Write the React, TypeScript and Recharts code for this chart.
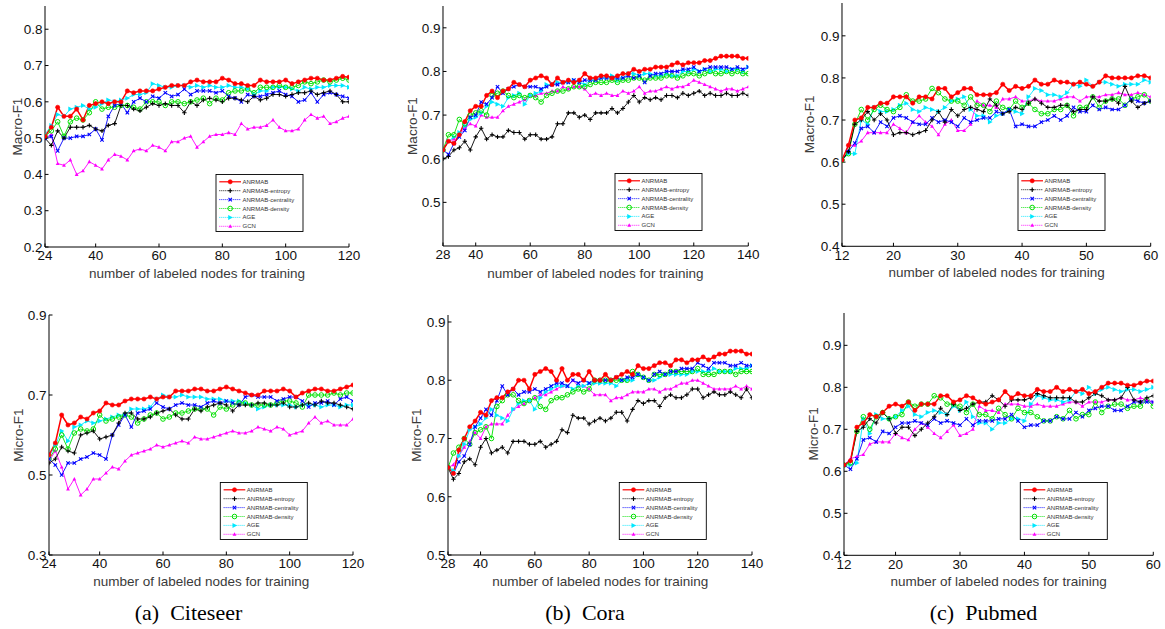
import React from "react";
import { LineChart, Line, XAxis, YAxis } from "recharts";

// x positions (labeled nodes)
const CITE_X = [24, 26, 28, 30, 32, 34, 36, 38, 40, 42, 44, 46, 48, 50, 52, 54, 56, 58, 60, 62, 64, 66, 68, 70, 72, 74, 76, 78, 80, 82, 84, 86, 88, 90, 92, 94, 96, 98, 100, 102, 104, 106, 108, 110, 112, 114, 116, 118, 120];
const CORA_X = [28, 30, 32, 34, 36, 38, 40, 42, 44, 46, 48, 50, 52, 54, 56, 58, 60, 62, 64, 66, 68, 70, 72, 74, 76, 78, 80, 82, 84, 86, 88, 90, 92, 94, 96, 98, 100, 102, 104, 106, 108, 110, 112, 114, 116, 118, 120, 122, 124, 126, 128, 130, 132, 134, 136, 138, 140];
const PUB_X = [12, 13, 14, 15, 16, 17, 18, 19, 20, 21, 22, 23, 24, 25, 26, 27, 28, 29, 30, 31, 32, 33, 34, 35, 36, 37, 38, 39, 40, 41, 42, 43, 44, 45, 46, 47, 48, 49, 50, 51, 52, 53, 54, 55, 56, 57, 58, 59, 60];

const CITE_TICKS = [24, 40, 60, 80, 100, 120];
const CORA_TICKS = [28, 40, 60, 80, 100, 120, 140];
const PUB_TICKS = [12, 20, 30, 40, 50, 60];

// Citeseer Macro-F1
const CITE_MACRO_ANRMAB = [
  0.505, 0.53, 0.585, 0.56, 0.56, 0.58, 0.55, 0.59, 0.595, 0.6,
  0.595, 0.6, 0.6, 0.63, 0.625, 0.63, 0.63, 0.63, 0.635, 0.64,
  0.645, 0.645, 0.645, 0.655, 0.66, 0.655, 0.655, 0.655, 0.665, 0.66,
  0.65, 0.65, 0.645, 0.645, 0.66, 0.655, 0.655, 0.655, 0.66, 0.65,
  0.655, 0.66, 0.665, 0.665, 0.66, 0.66, 0.665, 0.67, 0.668,
];
const CITE_MACRO_ENTROPY = [
  0.5, 0.48, 0.52, 0.5, 0.53, 0.53, 0.53, 0.535, 0.525, 0.52,
  0.535, 0.54, 0.59, 0.59, 0.58, 0.575, 0.585, 0.595, 0.59, 0.595,
  0.59, 0.59, 0.57, 0.6, 0.59, 0.605, 0.61, 0.605, 0.6, 0.61,
  0.61, 0.605, 0.6, 0.615, 0.605, 0.61, 0.62, 0.62, 0.615, 0.62,
  0.625, 0.625, 0.63, 0.62, 0.625, 0.63, 0.62, 0.6, 0.6,
];
const CITE_MACRO_CENTRALITY = [
  0.5, 0.505, 0.465, 0.5, 0.5, 0.505, 0.505, 0.51, 0.525, 0.495,
  0.56, 0.59, 0.595, 0.57, 0.6, 0.61, 0.6, 0.615, 0.61, 0.625,
  0.615, 0.62, 0.635, 0.62, 0.63, 0.63, 0.63, 0.625, 0.63, 0.615,
  0.61, 0.6, 0.62, 0.615, 0.615, 0.62, 0.625, 0.63, 0.62, 0.615,
  0.6, 0.605, 0.625, 0.6, 0.62, 0.625, 0.62, 0.615, 0.61,
];
const CITE_MACRO_DENSITY = [
  0.505, 0.52, 0.545, 0.505, 0.545, 0.555, 0.55, 0.57, 0.6, 0.58,
  0.585, 0.585, 0.59, 0.59, 0.585, 0.58, 0.6, 0.6, 0.6, 0.59,
  0.6, 0.6, 0.595, 0.6, 0.605, 0.61, 0.595, 0.61, 0.605, 0.625,
  0.63, 0.63, 0.635, 0.625, 0.64, 0.64, 0.64, 0.645, 0.64, 0.64,
  0.645, 0.655, 0.65, 0.655, 0.66, 0.655, 0.66, 0.665, 0.66,
];
const CITE_MACRO_AGE = [
  0.51, 0.535, 0.565, 0.56, 0.58, 0.585, 0.59, 0.58, 0.585, 0.595,
  0.605, 0.6, 0.605, 0.61, 0.62, 0.62, 0.625, 0.65, 0.645, 0.64,
  0.64, 0.645, 0.645, 0.64, 0.645, 0.64, 0.645, 0.64, 0.64, 0.645,
  0.64, 0.64, 0.635, 0.62, 0.63, 0.63, 0.64, 0.64, 0.64, 0.635,
  0.63, 0.64, 0.635, 0.64, 0.64, 0.645, 0.645, 0.645, 0.64,
];
const CITE_MACRO_GCN = [
  0.5, 0.51, 0.43, 0.425, 0.44, 0.4, 0.41, 0.435, 0.425, 0.415,
  0.44, 0.455, 0.45, 0.44, 0.465, 0.47, 0.465, 0.48, 0.475, 0.465,
  0.49, 0.49, 0.5, 0.505, 0.475, 0.49, 0.505, 0.51, 0.51, 0.515,
  0.51, 0.54, 0.525, 0.53, 0.53, 0.535, 0.55, 0.53, 0.52, 0.52,
  0.525, 0.55, 0.565, 0.555, 0.56, 0.54, 0.545, 0.555, 0.56,
];

// Cora Macro-F1
const CORA_MACRO_ANRMAB = [
  0.62, 0.64, 0.635, 0.655, 0.685, 0.71, 0.72, 0.72, 0.745, 0.755,
  0.74, 0.755, 0.76, 0.775, 0.77, 0.765, 0.78, 0.785, 0.79, 0.785,
  0.77, 0.785, 0.775, 0.78, 0.775, 0.78, 0.795, 0.785, 0.785, 0.79,
  0.79, 0.785, 0.79, 0.795, 0.795, 0.805, 0.8, 0.805, 0.805, 0.81,
  0.81, 0.81, 0.815, 0.82, 0.815, 0.82, 0.82, 0.82, 0.825, 0.825,
  0.83, 0.835, 0.835, 0.835, 0.835, 0.83, 0.83,
];
const CORA_MACRO_ENTROPY = [
  0.6, 0.605, 0.62, 0.625, 0.64, 0.62, 0.65, 0.67, 0.645, 0.655,
  0.65, 0.65, 0.665, 0.66, 0.66, 0.645, 0.655, 0.655, 0.645, 0.645,
  0.65, 0.68, 0.68, 0.705, 0.705, 0.695, 0.7, 0.69, 0.705, 0.705,
  0.705, 0.715, 0.705, 0.715, 0.73, 0.745, 0.73, 0.74, 0.735, 0.74,
  0.735, 0.745, 0.745, 0.74, 0.75, 0.745, 0.75, 0.755, 0.745, 0.75,
  0.745, 0.745, 0.75, 0.745, 0.745, 0.75, 0.745,
];
const CORA_MACRO_CENTRALITY = [
  0.62, 0.61, 0.635, 0.65, 0.665, 0.695, 0.7, 0.73, 0.725, 0.74,
  0.765, 0.75, 0.76, 0.765, 0.77, 0.765, 0.765, 0.765, 0.76, 0.765,
  0.77, 0.77, 0.775, 0.775, 0.78, 0.775, 0.78, 0.78, 0.78, 0.785,
  0.785, 0.785, 0.785, 0.785, 0.79, 0.785, 0.79, 0.775, 0.79, 0.795,
  0.795, 0.8, 0.8, 0.8, 0.805, 0.805, 0.81, 0.8, 0.805, 0.81,
  0.81, 0.81, 0.81, 0.805, 0.81, 0.805, 0.81,
];
const CORA_MACRO_DENSITY = [
  0.62, 0.655, 0.655, 0.69, 0.68, 0.7, 0.705, 0.71, 0.7, 0.745,
  0.75, 0.755, 0.745, 0.74, 0.745, 0.74, 0.745, 0.74, 0.73, 0.745,
  0.75, 0.755, 0.755, 0.76, 0.765, 0.765, 0.765, 0.77, 0.775, 0.775,
  0.775, 0.78, 0.775, 0.78, 0.78, 0.785, 0.785, 0.78, 0.785, 0.785,
  0.785, 0.79, 0.79, 0.785, 0.79, 0.795, 0.795, 0.79, 0.795, 0.8,
  0.795, 0.795, 0.8, 0.795, 0.8, 0.795, 0.795,
];
const CORA_MACRO_AGE = [
  0.62, 0.64, 0.65, 0.66, 0.675, 0.69, 0.695, 0.705, 0.72, 0.73,
  0.725, 0.72, 0.74, 0.745, 0.75, 0.725, 0.745, 0.75, 0.755, 0.77,
  0.77, 0.775, 0.775, 0.775, 0.78, 0.775, 0.77, 0.78, 0.78, 0.785,
  0.785, 0.79, 0.78, 0.785, 0.795, 0.795, 0.79, 0.795, 0.795, 0.79,
  0.79, 0.795, 0.79, 0.79, 0.8, 0.8, 0.805, 0.8, 0.805, 0.8,
  0.805, 0.805, 0.8, 0.805, 0.805, 0.8, 0.81,
];
const CORA_MACRO_GCN = [
  0.62, 0.64, 0.645, 0.655, 0.67, 0.68, 0.675, 0.7, 0.695, 0.695,
  0.695, 0.71, 0.72, 0.725, 0.73, 0.735, 0.745, 0.745, 0.75, 0.75,
  0.755, 0.755, 0.765, 0.76, 0.765, 0.765, 0.76, 0.745, 0.75, 0.745,
  0.75, 0.745, 0.745, 0.755, 0.75, 0.755, 0.765, 0.75, 0.755, 0.755,
  0.76, 0.765, 0.76, 0.765, 0.765, 0.77, 0.78, 0.775, 0.77, 0.765,
  0.76, 0.755, 0.76, 0.76, 0.755, 0.76, 0.765,
];

// Pubmed Macro-F1
const PUB_MACRO_ANRMAB = [
  0.605, 0.64, 0.7, 0.705, 0.73, 0.73, 0.74, 0.74, 0.755, 0.755,
  0.755, 0.74, 0.755, 0.755, 0.75, 0.775, 0.775, 0.755, 0.765, 0.775,
  0.775, 0.76, 0.76, 0.76, 0.765, 0.785, 0.77, 0.78, 0.775, 0.78,
  0.795, 0.785, 0.785, 0.795, 0.79, 0.79, 0.785, 0.79, 0.785, 0.78,
  0.79, 0.805, 0.8, 0.8, 0.8, 0.8, 0.805, 0.805, 0.8,
];
const PUB_MACRO_ENTROPY = [
  0.605, 0.625, 0.69, 0.7, 0.72, 0.7, 0.715, 0.7, 0.665, 0.67,
  0.67, 0.665, 0.67, 0.675, 0.7, 0.72, 0.695, 0.725, 0.71, 0.725,
  0.73, 0.725, 0.72, 0.75, 0.735, 0.715, 0.72, 0.73, 0.725, 0.74,
  0.75, 0.74, 0.73, 0.73, 0.735, 0.735, 0.72, 0.725, 0.725, 0.755,
  0.745, 0.745, 0.75, 0.74, 0.78, 0.745, 0.73, 0.74, 0.745,
];
const PUB_MACRO_CENTRALITY = [
  0.605, 0.625, 0.645, 0.68, 0.685, 0.67, 0.695, 0.685, 0.705, 0.71,
  0.705, 0.695, 0.69, 0.69, 0.705, 0.695, 0.7, 0.695, 0.685, 0.705,
  0.695, 0.7, 0.705, 0.705, 0.72, 0.715, 0.725, 0.685, 0.69, 0.685,
  0.685, 0.695, 0.7, 0.71, 0.7, 0.71, 0.73, 0.72, 0.72, 0.735,
  0.725, 0.73, 0.725, 0.725, 0.735, 0.75, 0.745, 0.74, 0.745,
];
const PUB_MACRO_DENSITY = [
  0.605, 0.62, 0.69, 0.725, 0.7, 0.725, 0.735, 0.725, 0.72, 0.73,
  0.76, 0.745, 0.745, 0.75, 0.775, 0.765, 0.75, 0.745, 0.745, 0.735,
  0.755, 0.735, 0.735, 0.72, 0.745, 0.73, 0.725, 0.745, 0.73, 0.74,
  0.725, 0.715, 0.715, 0.725, 0.725, 0.735, 0.71, 0.73, 0.73, 0.755,
  0.73, 0.745, 0.75, 0.75, 0.735, 0.75, 0.755, 0.76, 0.745,
];
const PUB_MACRO_AGE = [
  0.605, 0.62, 0.62, 0.7, 0.69, 0.73, 0.72, 0.72, 0.725, 0.735,
  0.74, 0.725, 0.72, 0.73, 0.725, 0.72, 0.73, 0.745, 0.75, 0.755,
  0.725, 0.71, 0.71, 0.695, 0.71, 0.715, 0.725, 0.72, 0.715, 0.755,
  0.775, 0.77, 0.76, 0.76, 0.755, 0.765, 0.785, 0.78, 0.795, 0.78,
  0.79, 0.79, 0.785, 0.78, 0.785, 0.785, 0.785, 0.795, 0.79,
];
const PUB_MACRO_GCN = [
  0.605, 0.64, 0.64, 0.65, 0.67, 0.67, 0.67, 0.67, 0.69, 0.68,
  0.67, 0.695, 0.71, 0.695, 0.685, 0.665, 0.69, 0.7, 0.675, 0.675,
  0.69, 0.745, 0.735, 0.735, 0.73, 0.75, 0.75, 0.755, 0.745, 0.745,
  0.75, 0.745, 0.745, 0.745, 0.75, 0.755, 0.755, 0.745, 0.755, 0.755,
  0.755, 0.76, 0.76, 0.765, 0.76, 0.76, 0.765, 0.76, 0.755,
];

// Citeseer Micro-F1
const CITE_MICRO_ANRMAB = [
  0.55, 0.58, 0.65, 0.625, 0.63, 0.645, 0.64, 0.655, 0.66, 0.68,
  0.675, 0.675, 0.685, 0.69, 0.69, 0.69, 0.695, 0.69, 0.695, 0.695,
  0.71, 0.71, 0.71, 0.715, 0.715, 0.71, 0.71, 0.715, 0.72, 0.715,
  0.71, 0.705, 0.7, 0.7, 0.71, 0.71, 0.71, 0.715, 0.71, 0.695,
  0.705, 0.71, 0.715, 0.715, 0.71, 0.71, 0.715, 0.72, 0.725,
];
const CITE_MICRO_ENTROPY = [
  0.53, 0.54, 0.57, 0.56, 0.555, 0.6, 0.605, 0.61, 0.59, 0.595,
  0.6, 0.63, 0.655, 0.655, 0.64, 0.64, 0.645, 0.655, 0.66, 0.665,
  0.65, 0.64, 0.64, 0.665, 0.66, 0.67, 0.675, 0.68, 0.675, 0.66,
  0.675, 0.675, 0.675, 0.68, 0.68, 0.675, 0.675, 0.68, 0.67, 0.67,
  0.675, 0.68, 0.675, 0.685, 0.68, 0.68, 0.675, 0.67, 0.665,
];
const CITE_MICRO_CENTRALITY = [
  0.54, 0.525, 0.5, 0.53, 0.53, 0.54, 0.545, 0.555, 0.55, 0.54,
  0.6, 0.625, 0.65, 0.62, 0.655, 0.66, 0.665, 0.68, 0.67, 0.665,
  0.675, 0.68, 0.675, 0.675, 0.67, 0.68, 0.685, 0.68, 0.685, 0.68,
  0.675, 0.695, 0.7, 0.695, 0.695, 0.695, 0.685, 0.69, 0.695, 0.695,
  0.685, 0.67, 0.68, 0.68, 0.685, 0.675, 0.69, 0.695, 0.685,
];
const CITE_MICRO_DENSITY = [
  0.54, 0.565, 0.6, 0.565, 0.605, 0.615, 0.61, 0.615, 0.65, 0.635,
  0.64, 0.645, 0.65, 0.645, 0.63, 0.64, 0.65, 0.655, 0.64, 0.645,
  0.655, 0.655, 0.66, 0.665, 0.665, 0.665, 0.65, 0.67, 0.665, 0.675,
  0.68, 0.68, 0.675, 0.675, 0.675, 0.675, 0.68, 0.685, 0.685, 0.68,
  0.67, 0.7, 0.7, 0.7, 0.7, 0.705, 0.7, 0.705, 0.705,
];
const CITE_MICRO_AGE = [
  0.545, 0.575, 0.61, 0.585, 0.62, 0.625, 0.635, 0.63, 0.635, 0.64,
  0.645, 0.65, 0.65, 0.665, 0.665, 0.665, 0.67, 0.69, 0.7, 0.695,
  0.695, 0.7, 0.695, 0.695, 0.695, 0.69, 0.69, 0.69, 0.685, 0.685,
  0.685, 0.68, 0.675, 0.665, 0.67, 0.675, 0.675, 0.675, 0.675, 0.67,
  0.675, 0.675, 0.675, 0.67, 0.675, 0.675, 0.67, 0.675, 0.675,
];
const CITE_MICRO_GCN = [
  0.535, 0.56, 0.52, 0.465, 0.49, 0.45, 0.465, 0.49, 0.49, 0.505,
  0.52, 0.515, 0.535, 0.55, 0.555, 0.56, 0.565, 0.575, 0.57, 0.575,
  0.58, 0.585, 0.58, 0.595, 0.59, 0.59, 0.595, 0.6, 0.605, 0.61,
  0.605, 0.605, 0.61, 0.62, 0.615, 0.61, 0.62, 0.615, 0.6, 0.605,
  0.61, 0.63, 0.645, 0.63, 0.635, 0.625, 0.625, 0.625, 0.64,
];

// Cora Micro-F1
const CORA_MICRO_ANRMAB = [
  0.65, 0.64, 0.68, 0.7, 0.72, 0.73, 0.745, 0.74, 0.765, 0.77,
  0.77, 0.78, 0.785, 0.8, 0.8, 0.785, 0.81, 0.815, 0.82, 0.815,
  0.8, 0.82, 0.8, 0.81, 0.81, 0.8, 0.815, 0.8, 0.8, 0.81,
  0.8, 0.805, 0.81, 0.815, 0.81, 0.825, 0.82, 0.82, 0.825, 0.83,
  0.83, 0.825, 0.835, 0.835, 0.83, 0.835, 0.835, 0.84, 0.835, 0.84,
  0.845, 0.845, 0.85, 0.85, 0.85, 0.845, 0.845,
];
const CORA_MICRO_ENTROPY = [
  0.65, 0.63, 0.64, 0.66, 0.665, 0.655, 0.685, 0.7, 0.675, 0.68,
  0.685, 0.675, 0.695, 0.695, 0.695, 0.69, 0.69, 0.695, 0.685, 0.69,
  0.695, 0.715, 0.71, 0.74, 0.735, 0.735, 0.725, 0.73, 0.735, 0.73,
  0.735, 0.745, 0.745, 0.73, 0.75, 0.765, 0.76, 0.765, 0.765, 0.755,
  0.77, 0.775, 0.77, 0.77, 0.775, 0.785, 0.785, 0.77, 0.775, 0.78,
  0.775, 0.775, 0.78, 0.775, 0.77, 0.785, 0.77,
];
const CORA_MICRO_CENTRALITY = [
  0.65, 0.64, 0.66, 0.67, 0.69, 0.72, 0.735, 0.75, 0.74, 0.765,
  0.79, 0.775, 0.785, 0.775, 0.78, 0.78, 0.785, 0.78, 0.785, 0.79,
  0.795, 0.795, 0.79, 0.8, 0.795, 0.8, 0.795, 0.8, 0.8, 0.8,
  0.8, 0.805, 0.8, 0.805, 0.805, 0.81, 0.805, 0.8, 0.81, 0.815,
  0.81, 0.815, 0.815, 0.82, 0.82, 0.82, 0.83, 0.825, 0.82, 0.83,
  0.83, 0.83, 0.825, 0.825, 0.83, 0.825, 0.825,
];
const CORA_MICRO_DENSITY = [
  0.65, 0.675, 0.685, 0.7, 0.69, 0.71, 0.715, 0.72, 0.7, 0.755,
  0.765, 0.775, 0.775, 0.765, 0.76, 0.765, 0.77, 0.755, 0.75, 0.765,
  0.77, 0.77, 0.775, 0.78, 0.785, 0.78, 0.785, 0.8, 0.8, 0.8,
  0.8, 0.8, 0.8, 0.8, 0.815, 0.81, 0.805, 0.8, 0.81, 0.81,
  0.81, 0.815, 0.815, 0.815, 0.815, 0.815, 0.82, 0.81, 0.81, 0.81,
  0.815, 0.815, 0.815, 0.81, 0.815, 0.815, 0.815,
];
const CORA_MICRO_AGE = [
  0.65, 0.645, 0.67, 0.69, 0.715, 0.72, 0.725, 0.735, 0.75, 0.74,
  0.735, 0.73, 0.75, 0.76, 0.765, 0.765, 0.75, 0.77, 0.78, 0.785,
  0.79, 0.79, 0.79, 0.785, 0.79, 0.79, 0.795, 0.795, 0.795, 0.795,
  0.795, 0.79, 0.8, 0.8, 0.8, 0.81, 0.805, 0.8, 0.8, 0.805,
  0.81, 0.81, 0.81, 0.81, 0.81, 0.815, 0.815, 0.815, 0.815, 0.82,
  0.815, 0.815, 0.815, 0.82, 0.82, 0.82, 0.825,
];
const CORA_MICRO_GCN = [
  0.65, 0.655, 0.67, 0.685, 0.695, 0.71, 0.7, 0.72, 0.725, 0.725,
  0.725, 0.74, 0.75, 0.755, 0.76, 0.765, 0.77, 0.775, 0.775, 0.78,
  0.785, 0.79, 0.79, 0.8, 0.79, 0.79, 0.785, 0.775, 0.775, 0.775,
  0.765, 0.77, 0.77, 0.775, 0.78, 0.78, 0.78, 0.785, 0.785, 0.78,
  0.785, 0.785, 0.79, 0.795, 0.795, 0.8, 0.8, 0.795, 0.79, 0.785,
  0.785, 0.785, 0.785, 0.79, 0.785, 0.79, 0.785,
];

// Pubmed Micro-F1
const PUB_MICRO_ANRMAB = [
  0.615, 0.625, 0.705, 0.715, 0.735, 0.73, 0.74, 0.755, 0.76, 0.755,
  0.765, 0.745, 0.76, 0.76, 0.76, 0.78, 0.78, 0.765, 0.77, 0.78,
  0.775, 0.765, 0.76, 0.765, 0.77, 0.79, 0.775, 0.785, 0.78, 0.78,
  0.795, 0.79, 0.79, 0.8, 0.79, 0.795, 0.79, 0.795, 0.785, 0.79,
  0.8, 0.81, 0.81, 0.81, 0.805, 0.805, 0.81, 0.815, 0.815,
];
const PUB_MICRO_ENTROPY = [
  0.615, 0.625, 0.695, 0.705, 0.725, 0.715, 0.74, 0.725, 0.69, 0.705,
  0.705, 0.685, 0.7, 0.715, 0.73, 0.75, 0.735, 0.76, 0.745, 0.75,
  0.76, 0.765, 0.765, 0.78, 0.77, 0.755, 0.77, 0.77, 0.77, 0.775,
  0.785, 0.78, 0.775, 0.775, 0.775, 0.775, 0.765, 0.765, 0.775, 0.785,
  0.78, 0.77, 0.77, 0.775, 0.8, 0.77, 0.765, 0.775, 0.78,
];
const PUB_MICRO_CENTRALITY = [
  0.615, 0.605, 0.63, 0.675, 0.68, 0.67, 0.695, 0.69, 0.705, 0.715,
  0.715, 0.72, 0.715, 0.71, 0.725, 0.715, 0.72, 0.715, 0.71, 0.725,
  0.71, 0.72, 0.72, 0.72, 0.725, 0.725, 0.735, 0.72, 0.705, 0.71,
  0.71, 0.72, 0.72, 0.73, 0.725, 0.725, 0.74, 0.73, 0.745, 0.75,
  0.755, 0.755, 0.745, 0.745, 0.755, 0.765, 0.765, 0.765, 0.765,
];
const PUB_MICRO_DENSITY = [
  0.615, 0.62, 0.695, 0.73, 0.7, 0.73, 0.74, 0.725, 0.73, 0.735,
  0.765, 0.755, 0.76, 0.76, 0.78, 0.775, 0.76, 0.76, 0.755, 0.74,
  0.76, 0.735, 0.735, 0.725, 0.75, 0.735, 0.725, 0.75, 0.74, 0.74,
  0.73, 0.72, 0.72, 0.73, 0.725, 0.745, 0.725, 0.735, 0.735, 0.765,
  0.74, 0.755, 0.76, 0.76, 0.75, 0.755, 0.755, 0.77, 0.755,
];
const PUB_MICRO_AGE = [
  0.615, 0.615, 0.62, 0.725, 0.69, 0.735, 0.725, 0.725, 0.73, 0.745,
  0.755, 0.735, 0.73, 0.74, 0.745, 0.74, 0.735, 0.755, 0.745, 0.765,
  0.73, 0.715, 0.715, 0.7, 0.715, 0.715, 0.725, 0.725, 0.72, 0.76,
  0.78, 0.775, 0.77, 0.77, 0.765, 0.77, 0.79, 0.785, 0.8, 0.785,
  0.795, 0.8, 0.795, 0.79, 0.795, 0.795, 0.79, 0.795, 0.8,
];
const PUB_MICRO_GCN = [
  0.615, 0.63, 0.635, 0.64, 0.665, 0.67, 0.67, 0.67, 0.69, 0.68,
  0.675, 0.7, 0.715, 0.705, 0.69, 0.68, 0.695, 0.71, 0.685, 0.69,
  0.7, 0.755, 0.745, 0.745, 0.74, 0.76, 0.76, 0.76, 0.755, 0.755,
  0.76, 0.755, 0.755, 0.755, 0.76, 0.765, 0.765, 0.755, 0.765, 0.765,
  0.765, 0.77, 0.77, 0.775, 0.77, 0.77, 0.775, 0.77, 0.765,
];

const SERIES = [
  { key: "anrmab", name: "ANRMAB", color: "#ff0000", marker: "dot", width: 1.5 },
  { key: "entropy", name: "ANRMAB-entropy", color: "#000000", marker: "plus", width: 0.9 },
  { key: "centrality", name: "ANRMAB-centrality", color: "#0000ff", marker: "x", width: 0.9 },
  { key: "density", name: "ANRMAB-density", color: "#00e000", marker: "ring", width: 0.9 },
  { key: "age", name: "AGE", color: "#00e8ff", marker: "triRight", width: 0.9 },
  { key: "gcn", name: "GCN", color: "#ff00ff", marker: "triUp", width: 0.9 },
];

const FONT = "'Liberation Sans', Arial, sans-serif";

type Panel = {
  L: number; T: number; R: number; B: number;
  xs: number[]; xDomain: [number, number]; xTicks: number[];
  yDomain: [number, number]; yTicks: number[];
  yLabel: string; yLabelX: number; xLabelY: number;
  values: number[][];
};

const PANELS: Panel[] = [
  { L: 45, T: 6, R: 349, B: 247, xs: CITE_X, xDomain: [24, 120], xTicks: CITE_TICKS, yDomain: [0.2, 0.864], yTicks: [0.2, 0.3, 0.4, 0.5, 0.6, 0.7, 0.8], yLabel: "Macro-F1", yLabelX: 17.5, xLabelY: 273,
    values: [CITE_MACRO_ANRMAB, CITE_MACRO_ENTROPY, CITE_MACRO_CENTRALITY, CITE_MACRO_DENSITY, CITE_MACRO_AGE, CITE_MACRO_GCN] },
  { L: 442.7, T: 6, R: 748, B: 246, xs: CORA_X, xDomain: [28, 140], xTicks: CORA_TICKS, yDomain: [0.4, 0.95], yTicks: [0.5, 0.6, 0.7, 0.8, 0.9], yLabel: "Macro-F1", yLabelX: 412, xLabelY: 273,
    values: [CORA_MACRO_ANRMAB, CORA_MACRO_ENTROPY, CORA_MACRO_CENTRALITY, CORA_MACRO_DENSITY, CORA_MACRO_AGE, CORA_MACRO_GCN] },
  { L: 842.3, T: 2.7, R: 1151, B: 246, xs: PUB_X, xDomain: [12, 60], xTicks: PUB_TICKS, yDomain: [0.4, 0.978], yTicks: [0.4, 0.5, 0.6, 0.7, 0.8, 0.9], yLabel: "Macro-F1", yLabelX: 809, xLabelY: 272,
    values: [PUB_MACRO_ANRMAB, PUB_MACRO_ENTROPY, PUB_MACRO_CENTRALITY, PUB_MACRO_DENSITY, PUB_MACRO_AGE, PUB_MACRO_GCN] },
  { L: 49.3, T: 315, R: 353.3, B: 555, xs: CITE_X, xDomain: [24, 120], xTicks: CITE_TICKS, yDomain: [0.3, 0.9], yTicks: [0.3, 0.5, 0.7, 0.9], yLabel: "Micro-F1", yLabelX: 18.5, xLabelY: 581,
    values: [CITE_MICRO_ANRMAB, CITE_MICRO_ENTROPY, CITE_MICRO_CENTRALITY, CITE_MICRO_DENSITY, CITE_MICRO_AGE, CITE_MICRO_GCN] },
  { L: 448.3, T: 315, R: 752.3, B: 555, xs: CORA_X, xDomain: [28, 140], xTicks: CORA_TICKS, yDomain: [0.5, 0.912], yTicks: [0.5, 0.6, 0.7, 0.8, 0.9], yLabel: "Micro-F1", yLabelX: 416.7, xLabelY: 581.5,
    values: [CORA_MICRO_ANRMAB, CORA_MICRO_ENTROPY, CORA_MICRO_CENTRALITY, CORA_MICRO_DENSITY, CORA_MICRO_AGE, CORA_MICRO_GCN] },
  { L: 844, T: 312.7, R: 1153.3, B: 555, xs: PUB_X, xDomain: [12, 60], xTicks: PUB_TICKS, yDomain: [0.4, 0.977], yTicks: [0.4, 0.5, 0.6, 0.7, 0.8, 0.9], yLabel: "Micro-F1", yLabelX: 813, xLabelY: 581,
    values: [PUB_MICRO_ANRMAB, PUB_MICRO_ENTROPY, PUB_MICRO_CENTRALITY, PUB_MICRO_DENSITY, PUB_MICRO_AGE, PUB_MICRO_GCN] },
];

const CAPTIONS = [
  { text: "(a)\u00a0 Citeseer", x: 188.5 },
  { text: "(b)\u00a0 Cora", x: 585 },
  { text: "(c)\u00a0 Pubmed", x: 983.5 },
];

function Marker({ kind, cx, cy, color }: { kind: string; cx: number; cy: number; color: string }) {
  switch (kind) {
    case "dot":
      return <circle cx={cx} cy={cy} r={2.1} fill={color} stroke={color} strokeWidth={0.6} />;
    case "plus":
      return (
        <path d={`M${cx - 2.2},${cy}H${cx + 2.2}M${cx},${cy - 2.2}V${cy + 2.2}`} stroke={color} strokeWidth={1.1} />
      );
    case "x":
      return (
        <path d={`M${cx - 1.7},${cy - 1.7}L${cx + 1.7},${cy + 1.7}M${cx - 1.7},${cy + 1.7}L${cx + 1.7},${cy - 1.7}`} stroke={color} strokeWidth={1.1} />
      );
    case "ring":
      return <circle cx={cx} cy={cy} r={2.3} fill="none" stroke={color} strokeWidth={1} />;
    case "triRight":
      return <polygon points={`${cx - 2},${cy - 2.5} ${cx + 2.7},${cy} ${cx - 2},${cy + 2.5}`} fill={color} />;
    default:
      return <polygon points={`${cx},${cy - 2.1} ${cx + 1.9},${cy + 1.5} ${cx - 1.9},${cy + 1.5}`} fill={color} />;
  }
}

function Chart({ p }: { p: Panel }) {
  const padL = 46;
  const padT = 9;
  const padR = 16;
  const padB = 22;
  const width = p.R - p.L + padL + padR;
  const height = p.B - p.T + padT + padB;

  const data = p.xs.map((x, i) => {
    const row: Record<string, number> = { x };
    SERIES.forEach((s, j) => {
      row[s.key] = p.values[j][i];
    });
    return row;
  });

  const tickStyle = { fontSize: 13.5, fill: "#111", fontFamily: FONT };

  return (
    <div style={{ position: "absolute", left: p.L - padL, top: p.T - padT }}>
      <LineChart width={width} height={height} data={data} margin={{ top: padT, right: padR, bottom: 0, left: 0 }}>
        <XAxis
          xAxisId="b"
          dataKey="x"
          type="number"
          domain={p.xDomain}
          ticks={p.xTicks}
          interval={0}
          allowDataOverflow
          height={padB}
          tickSize={-3.5}
          tickMargin={7.3}
          stroke="#000"
          tick={tickStyle}
        />
        <XAxis
          xAxisId="t"
          orientation="top"
          dataKey="x"
          type="number"
          domain={p.xDomain}
          ticks={p.xTicks}
          interval={0}
          allowDataOverflow
          height={0}
          tickSize={-3.5}
          stroke="#000"
          tick={false}
        />
        <YAxis
          yAxisId="l"
          type="number"
          domain={p.yDomain}
          ticks={p.yTicks}
          interval={0}
          allowDataOverflow
          width={padL}
          tickSize={-3.5}
          tickMargin={6}
          stroke="#000"
          tick={tickStyle}
          tickFormatter={(v: number) => v.toFixed(1)}
        />
        <YAxis
          yAxisId="r"
          orientation="right"
          type="number"
          domain={p.yDomain}
          ticks={p.yTicks}
          interval={0}
          allowDataOverflow
          width={0}
          tickSize={-3.5}
          stroke="#000"
          tick={false}
        />
        {[...SERIES].reverse().map((s) => (
          <Line
            key={s.key}
            xAxisId="b"
            yAxisId="l"
            type="linear"
            dataKey={s.key}
            stroke={s.color}
            strokeWidth={s.width}
            isAnimationActive={false}
            activeDot={false}
            dot={(props: any) =>
              props.cx == null || props.cy == null ? (
                <g key={props.index} />
              ) : (
                <Marker key={props.index} kind={s.marker} cx={props.cx} cy={props.cy} color={s.color} />
              )
            }
          />
        ))}
      </LineChart>
    </div>
  );
}

function LegendBox({ p }: { p: Panel }) {
  const w = 87;
  const h = 57;
  const x0 = p.R - 46 - w;
  const y0 = p.B - 15.5 - h;
  return (
    <g transform={`translate(${x0},${y0})`}>
      <rect x={0} y={0} width={w} height={h} fill="#fff" stroke="#000" strokeWidth={0.9} />
      {SERIES.map((s, i) => {
        const y = 7.3 + i * 8.9;
        return (
          <g key={s.key}>
            <line
              x1={3.3}
              x2={25}
              y1={y}
              y2={y}
              stroke={s.color}
              strokeWidth={s.key === "anrmab" ? 1.2 : 0.9}
              strokeDasharray={s.key === "anrmab" ? undefined : "1 1"}
            />
            <Marker kind={s.marker} cx={14.2} cy={y} color={s.color} />
            <text x={26.5} y={y} fontSize={6} fill="#333" fontFamily={FONT} dominantBaseline="central">
              {s.name}
            </text>
          </g>
        );
      })}
    </g>
  );
}

export default function App() {
  return (
    <div style={{ position: "absolute", left: 0, top: 0, width: 1165, height: 629, background: "#fff", overflow: "hidden" }}>
      {PANELS.map((p, i) => (
        <Chart key={i} p={p} />
      ))}
      <svg width={1165} height={629} style={{ position: "absolute", left: 0, top: 0, pointerEvents: "none" }}>
        {PANELS.map((p, i) => (
          <g key={i}>
            <text
              x={(p.L + p.R) / 2}
              y={p.xLabelY}
              textAnchor="middle"
              dominantBaseline="central"
              fontSize={13.5}
              fill="#3a3a3a"
              fontFamily={FONT}
            >
              number of labeled nodes for training
            </text>
            <text
              transform={`translate(${p.yLabelX},${(p.T + p.B) / 2}) rotate(-90)`}
              textAnchor="middle"
              dominantBaseline="central"
              fontSize={13.5}
              fill="#3a3a3a"
              fontFamily={FONT}
            >
              {p.yLabel}
            </text>
            <LegendBox p={p} />
          </g>
        ))}
        {CAPTIONS.map((c) => (
          <text
            key={c.text}
            x={c.x}
            y={612}
            textAnchor="middle"
            dominantBaseline="central"
            fontSize={22}
            fill="#000"
            fontFamily="'Liberation Serif', 'Times New Roman', serif"
          >
            {c.text}
          </text>
        ))}
      </svg>
    </div>
  );
}
